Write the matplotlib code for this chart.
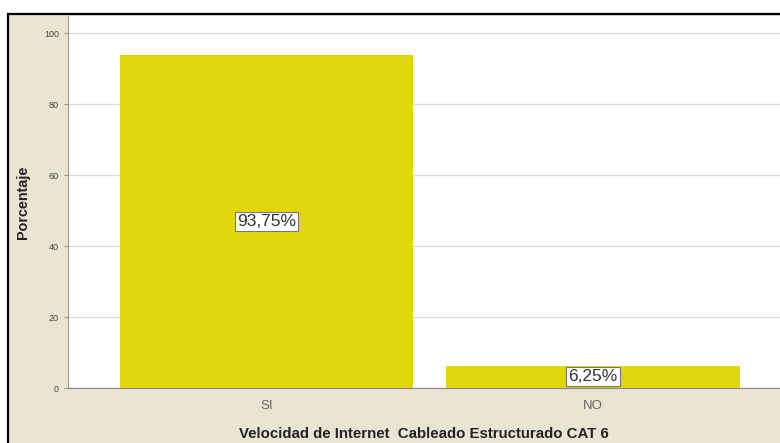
import matplotlib
matplotlib.use('Agg')
import matplotlib.pyplot as plt
from matplotlib.patches import Rectangle

# datos
categorias = ['SI', 'NO']
porcentajes = [93.75, 6.25]
etiquetas = ['93,75%', '6,25%']
yticks = [0, 20, 40, 60, 80, 100]

plt.rcParams['font.family'] = ['Liberation Sans', 'DejaVu Sans']

fig = plt.figure(figsize=(7.8, 4.43), dpi=100)
fig.patch.set_facecolor('white')

# fondo beige con marco negro
marco = Rectangle((8 / 780, -0.01), 1.0, 1 - 14 / 443 + 0.01, transform=fig.transFigure,
                  facecolor='#EAE4D3', edgecolor='black', linewidth=1.6, zorder=-5)
fig.patches.append(marco)

ax = fig.add_axes([68 / 780, 1 - 388 / 443, 1 - 68 / 780, (388 - 16) / 443])
ax.set_zorder(2)
ax.set_facecolor('white')

x = range(len(categorias))
ax.bar(x, porcentajes, width=0.9, color='#E0D60B', zorder=2)

for i in x:
    ax.text(i, porcentajes[i] / 2, etiquetas[i], ha='center', va='center', fontsize=12.5,
            color='#333333', zorder=3,
            bbox=dict(boxstyle='square,pad=0.12', facecolor='white', edgecolor='#777777', linewidth=0.8))

ax.set_xlim(-0.608, 1.573)
ax.set_ylim(0, 104.8)
ax.set_yticks(yticks)
ax.set_xticks(list(x))
ax.set_xticklabels(categorias, fontsize=9.5, color='#666666')
ax.tick_params(axis='y', labelsize=6.5, labelcolor='#444444', length=3, color='#999999')
ax.tick_params(axis='x', length=0, pad=8.5)
ax.yaxis.grid(True, color='#DDDDDD', linewidth=1.0, zorder=0)
ax.set_axisbelow(True)

for s in ['top', 'right']:
    ax.spines[s].set_visible(False)
ax.spines['left'].set_color('#999999')
ax.spines['bottom'].set_color('#888888')

ax.set_xlabel('Velocidad de Internet  Cableado Estructurado CAT 6', fontsize=10.8,
              fontweight='bold', color='#222222', labelpad=11)
ax.set_ylabel('Porcentaje', fontsize=10.4, fontweight='bold', color='#222222', labelpad=10)

plt.savefig('out.png', dpi=100)
